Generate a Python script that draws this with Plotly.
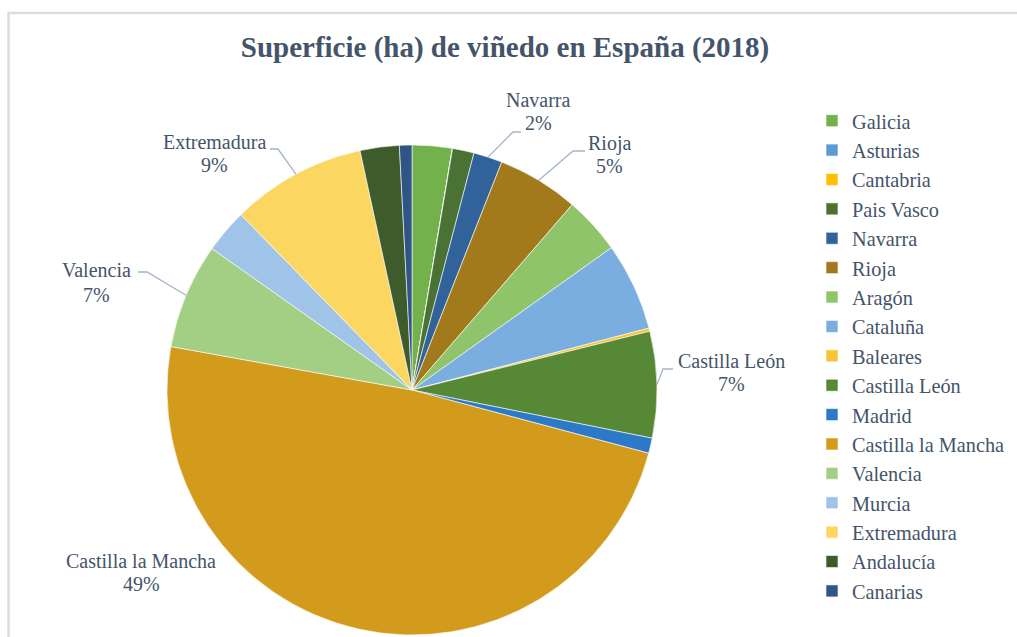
import math
import plotly.graph_objects as go

# Superficie de viñedo por comunidad autónoma (hectáreas), 2018
regiones = ["Galicia", "Asturias", "Cantabria", "Pais Vasco", "Navarra", "Rioja",
            "Aragón", "Cataluña", "Baleares", "Castilla León", "Madrid",
            "Castilla la Mancha", "Valencia", "Murcia", "Extremadura",
            "Andalucía", "Canarias"]
hectareas = [25000, 100, 50, 13500, 18000, 51000,
             36000, 55000, 2000, 66500, 9500,
             462000, 66000, 27500, 84500,
             24500, 7800]
colores = ["#72b14b", "#5b9bd5", "#ffc000", "#4a7235", "#31629a", "#a27a1c",
           "#8fc46a", "#7aade0", "#f6c531", "#568835", "#2b79c7",
           "#d29b1c", "#a3cf85", "#a0c3e8", "#fbd661",
           "#3e5b2c", "#2e5585"]

W, H = 1017, 637
CX, CY, R = 412, 390, 245          # pie centre and radius in pixels
TXT = "#44546A"
FONT = "Liberation Serif"


def px(x):
    return x / W


def py(y):
    return 1 - y / H


fig = go.Figure(go.Pie(
    labels=regiones,
    values=hectareas,
    sort=False,
    direction="clockwise",
    rotation=0,
    textinfo="none",
    marker=dict(colors=colores, line=dict(color="white", width=0.6)),
    domain=dict(x=[px(CX - R), px(CX + R)], y=[py(CY + R), py(CY - R)]),
))

total = sum(hectareas)

# outside labels: (name, label centre x, name y, percent y, leader elbow, leader end)
etiquetas = [
    ("Navarra", 538, 100, 123, (513, 132), (521, 132)),
    ("Rioja", 609, 143, 166, (573, 151), (585, 151)),
    ("Castilla León", 731, 361, 384, (663, 369), (673, 369)),
    ("Castilla la Mancha", 141, 561, 584, None, None),
    ("Valencia", 96, 270, 295, (147, 272), (138, 272)),
    ("Extremadura", 214, 142, 165, (278, 149), (270, 149)),
]

annotations = []
shapes = []
acum = 0.0
mid_angle = {}
for reg, v in zip(regiones, hectareas):
    mid_angle[reg] = 2 * math.pi * (acum + v / 2) / total
    acum += v

for nombre, lx, ny, pyy, codo, fin in etiquetas:
    v = hectareas[regiones.index(nombre)]
    pct = f"{round(100 * v / total)}%"
    for texto, ty in ((nombre, ny), (pct, pyy)):
        annotations.append(dict(
            x=px(lx), y=py(ty), xref="paper", yref="paper", text=texto,
            showarrow=False, xanchor="center", yanchor="middle",
            font=dict(family=FONT, size=20, color=TXT)))
    if codo is not None:
        a = mid_angle[nombre]
        ax, ay = CX + R * math.sin(a), CY - R * math.cos(a)
        path = (f"M {px(ax)} {py(ay)} L {px(codo[0])} {py(codo[1])} "
                f"L {px(fin[0])} {py(fin[1])}")
        shapes.append(dict(type="path", path=path, xref="paper", yref="paper",
                           line=dict(color="#a6b4c8", width=1.3)))

# chart frame
shapes.append(dict(type="rect", xref="paper", yref="paper",
                   x0=px(8.5), x1=1.1, y0=-0.1, y1=py(13),
                   line=dict(color="#d9dde3", width=2.5)))

fig.update_layout(
    width=W, height=H,
    margin=dict(l=0, r=0, t=0, b=0),
    paper_bgcolor="white",
    plot_bgcolor="white",
    title=dict(text="<b>Superficie (ha) de viñedo en España (2018)</b>",
               x=px(505), xanchor="center", y=py(47), yanchor="middle",
               font=dict(family=FONT, size=29, color=TXT)),
    legend=dict(x=px(812), xanchor="left", y=py(101), yanchor="top",
                font=dict(family=FONT, size=20.3, color=TXT),
                bgcolor="rgba(0,0,0,0)", traceorder="normal"),
    annotations=annotations,
    shapes=shapes,
)

fig.write_html("out.html")
